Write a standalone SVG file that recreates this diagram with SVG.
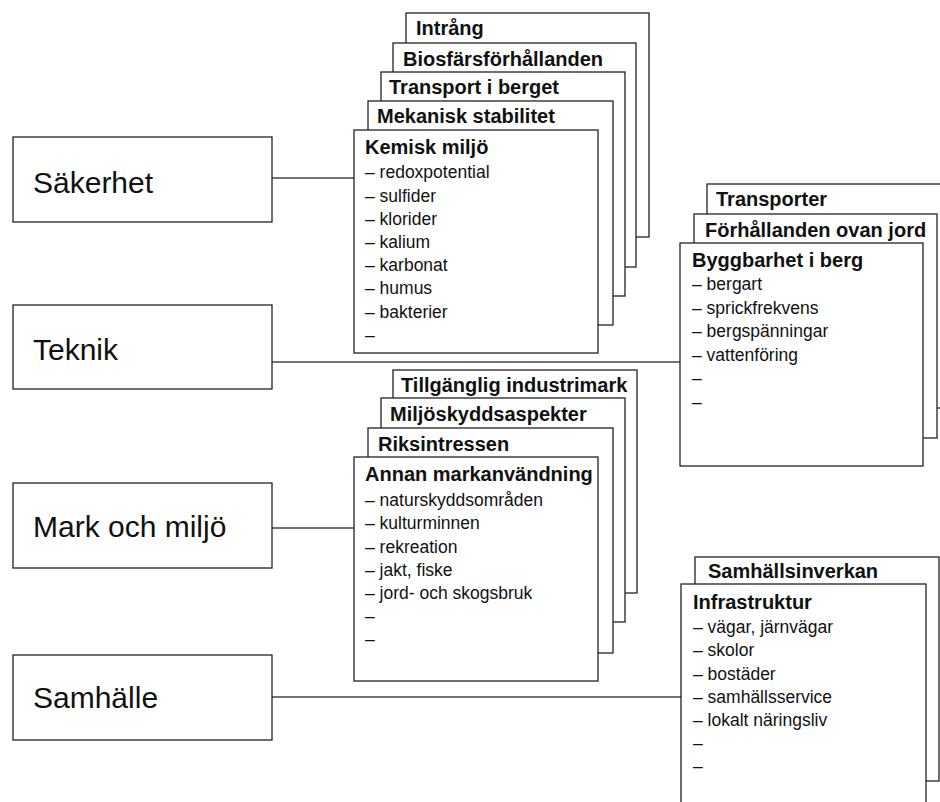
<svg xmlns="http://www.w3.org/2000/svg" width="940" height="802" viewBox="0 0 940 802">
<style>
.bg{fill:#fff}
.box{fill:#fff;stroke:#222;stroke-width:1.3}
.conn{stroke:#444;stroke-width:1.5;fill:none}
text{font-family:"Liberation Sans",Arial,Helvetica,sans-serif;fill:#111}
.lbl{font-size:30px}
.ttl{font-size:20px;font-weight:bold}
.itm{font-size:17.5px}
</style>
<rect class="bg" x="0" y="0" width="940" height="802"/>
<g id="connectors">
<line class="conn" x1="272" y1="178" x2="354" y2="178"/>
<line class="conn" x1="272" y1="362" x2="680" y2="362"/>
<line class="conn" x1="272" y1="528" x2="354" y2="528"/>
<line class="conn" x1="272" y1="697" x2="681" y2="697"/>
</g>
<g id="sakerhet"><rect class="box" x="13" y="137" width="259" height="85"/><text class="lbl" x="33" y="193">Säkerhet</text></g>
<g id="teknik"><rect class="box" x="13" y="305" width="259" height="84"/><text class="lbl" x="33" y="360">Teknik</text></g>
<g id="mark"><rect class="box" x="13" y="483" width="259" height="85"/><text class="lbl" x="33" y="537">Mark och miljö</text></g>
<g id="samhalle"><rect class="box" x="13" y="655" width="259" height="85"/><text class="lbl" x="33" y="708">Samhälle</text></g>

<g id="intrang"><rect class="box" x="406" y="13" width="243" height="224"/><text class="ttl" x="416" y="35">Intrång</text></g>
<g id="biosfar"><rect class="box" x="393" y="43" width="243" height="224"/><text class="ttl" x="403" y="66">Biosfärsförhållanden</text></g>
<g id="transport"><rect class="box" x="381" y="72" width="244" height="224"/><text class="ttl" x="389" y="94">Transport i berget</text></g>
<g id="mekanisk"><rect class="box" x="368" y="101" width="245" height="224"/><text class="ttl" x="377" y="123">Mekanisk stabilitet</text></g>
<g id="kemisk"><rect class="box" x="354" y="130" width="244" height="223"/><text class="ttl" x="365" y="154">Kemisk miljö</text>
<text class="itm" x="365" y="178">– redoxpotential</text>
<text class="itm" x="365" y="201.5">– sulfider</text>
<text class="itm" x="365" y="224.5">– klorider</text>
<text class="itm" x="365" y="248">– kalium</text>
<text class="itm" x="365" y="271">– karbonat</text>
<text class="itm" x="365" y="294">– humus</text>
<text class="itm" x="365" y="317.5">– bakterier</text>
<text class="itm" x="365" y="340.5">–</text>
</g>

<g id="transporter"><rect class="box" x="707" y="184" width="243" height="224"/><text class="ttl" x="716" y="206">Transporter</text></g>
<g id="forhallanden"><rect class="box" x="694" y="214" width="243" height="224"/><text class="ttl" x="705" y="237">Förhållanden ovan jord</text></g>
<g id="byggbarhet"><rect class="box" x="680" y="243" width="243" height="223"/><text class="ttl" x="692" y="267">Byggbarhet i berg</text>
<text class="itm" x="692" y="290">– bergart</text>
<text class="itm" x="692" y="313.5">– sprickfrekvens</text>
<text class="itm" x="692" y="337">– bergspänningar</text>
<text class="itm" x="692" y="360.5">– vattenföring</text>
<text class="itm" x="692" y="384">–</text>
<text class="itm" x="692" y="407.5">–</text>
</g>

<g id="tillganglig"><rect class="box" x="393" y="370" width="244" height="223"/><text class="ttl" x="401" y="392">Tillgänglig industrimark</text></g>
<g id="miljoskydd"><rect class="box" x="381" y="398" width="244" height="224"/><text class="ttl" x="390" y="421">Miljöskyddsaspekter</text></g>
<g id="riksintressen"><rect class="box" x="368" y="428" width="245" height="225"/><text class="ttl" x="378" y="451">Riksintressen</text></g>
<g id="annan"><rect class="box" x="354" y="457" width="244" height="224"/><text class="ttl" x="365" y="481">Annan markanvändning</text>
<text class="itm" x="365" y="506">– naturskyddsområden</text>
<text class="itm" x="365" y="529">– kulturminnen</text>
<text class="itm" x="365" y="552.5">– rekreation</text>
<text class="itm" x="365" y="575.5">– jakt, fiske</text>
<text class="itm" x="365" y="599">– jord- och skogsbruk</text>
<text class="itm" x="365" y="622">–</text>
<text class="itm" x="365" y="645">–</text>
</g>

<g id="samhallsinverkan"><rect class="box" x="695" y="557" width="244" height="224"/><text class="ttl" x="708" y="578">Samhällsinverkan</text></g>
<g id="infrastruktur"><rect class="box" x="681" y="584" width="245" height="240"/><text class="ttl" x="693" y="609">Infrastruktur</text>
<text class="itm" x="693" y="633">– vägar, järnvägar</text>
<text class="itm" x="693" y="656">– skolor</text>
<text class="itm" x="693" y="679.5">– bostäder</text>
<text class="itm" x="693" y="703">– samhällsservice</text>
<text class="itm" x="693" y="726">– lokalt näringsliv</text>
<text class="itm" x="693" y="749">–</text>
<text class="itm" x="693" y="772">–</text>
</g>
</svg>
